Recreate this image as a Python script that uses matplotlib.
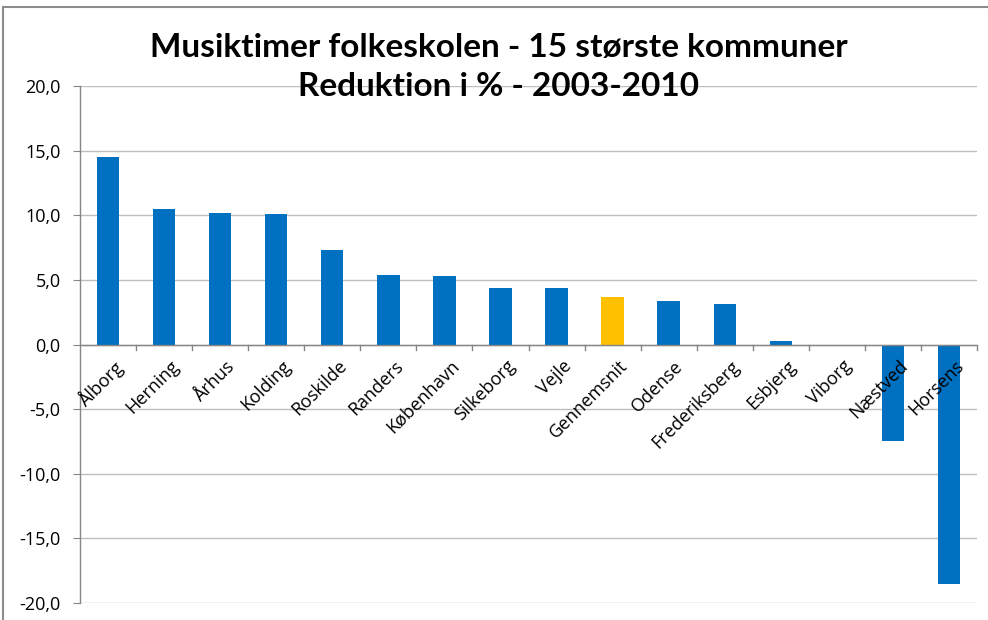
import matplotlib
matplotlib.use("Agg")
import matplotlib.pyplot as plt
from matplotlib.ticker import FuncFormatter, MultipleLocator
from matplotlib.patches import Rectangle

categories = ["Ålborg", "Herning", "Århus", "Kolding", "Roskilde", "Randers",
              "København", "Silkeborg", "Vejle", "Gennemsnit", "Odense",
              "Frederiksberg", "Esbjerg", "Viborg", "Næstved", "Horsens"]
values = [14.5, 10.5, 10.2, 10.1, 7.3, 5.4, 5.3, 4.4, 4.4, 3.7, 3.4, 3.1,
          0.3, 0.0, -7.5, -18.5]
highlight = "Gennemsnit"

title = "Musiktimer folkeskolen - 15 største kommuner\nReduktion i % - 2003-2010"

BLUE = "#0070C0"
GOLD = "#FFC000"
GRID = "#BFBFBF"
FONT = "Open Sans"

fig = plt.figure(figsize=(9.88, 6.2), dpi=100)
ax = fig.add_axes([80/988, 1-603/620, (977-80)/988, (603-86)/620])

x = list(range(len(categories)))
colors = [GOLD if c == highlight else BLUE for c in categories]
ax.bar(x, values, width=0.4, color=colors, zorder=3)

ax.set_xlim(-0.5, len(categories) - 0.5)
ax.set_ylim(-20, 20)
ax.yaxis.set_major_locator(MultipleLocator(5))
ax.yaxis.set_major_formatter(FuncFormatter(lambda v, p: f"{v:.1f}".replace(".", ",")))
ax.grid(axis="y", color=GRID, linewidth=1, zorder=0)
ax.set_axisbelow(True)

for s in ["top", "right", "bottom"]:
    ax.spines[s].set_visible(False)
ax.spines["left"].set_color("#868686")
ax.spines["left"].set_linewidth(1)
ax.tick_params(axis="y", length=5, color="#868686", labelsize=13, pad=9)
for lab in ax.get_yticklabels():
    lab.set_family(FONT)

# zero (category) axis line
ax.axhline(0, color="#868686", linewidth=1, zorder=4)
ax.set_xticks([])
for b in range(1, len(categories) + 1):
    ax.plot([b - 0.5, b - 0.5], [0, -0.4], color="#868686", linewidth=1,
            zorder=4, clip_on=False)

for i, c in enumerate(categories):
    ax.annotate(c, xy=(i, 0), xycoords="data", xytext=(4, -9),
                textcoords="offset points", rotation=45, ha="right", va="top",
                rotation_mode="anchor", fontsize=13, family=FONT, color="#000000",
                zorder=5)

fig.text(0.505, 1 - 67/620, title, ha="center", va="center", fontsize=24,
         fontweight="bold", family="Lato", linespacing=1.45)

fig.add_artist(Rectangle((3/988, -0.02), 1.0, 1 - 7/620 + 0.02,
                         transform=fig.transFigure, fill=False,
                         edgecolor="#8C8C8C", linewidth=1.5))

fig.savefig("out.png", dpi=100)
